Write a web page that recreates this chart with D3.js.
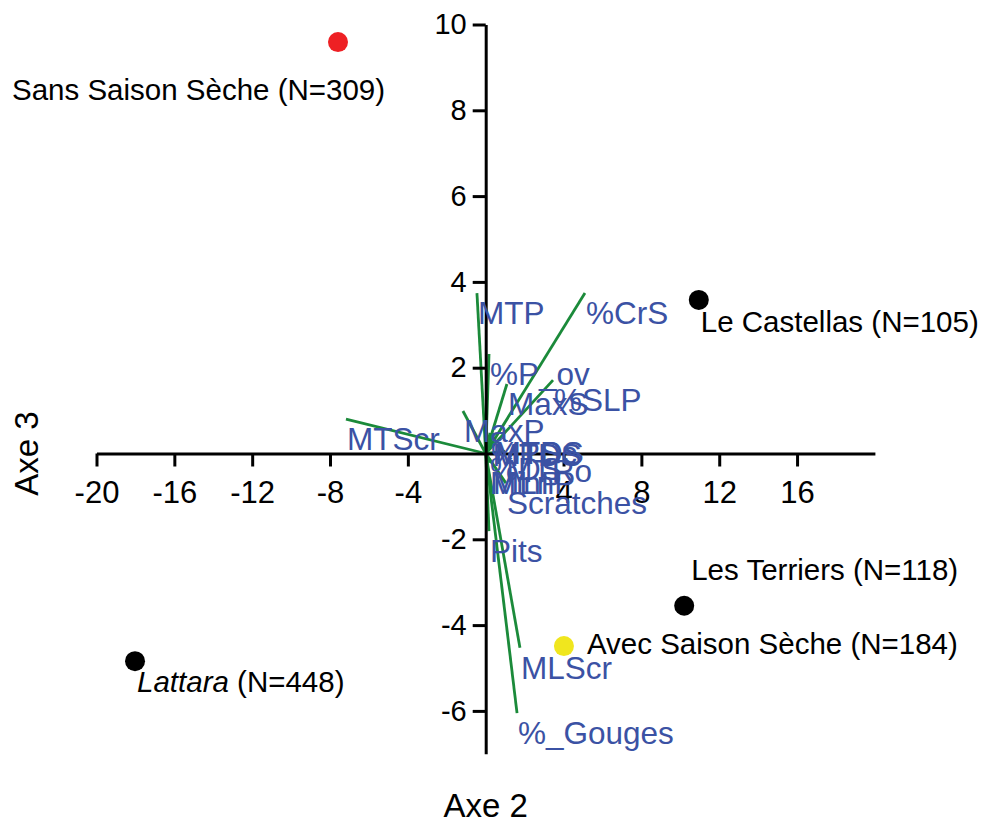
<!DOCTYPE html>
<html>
<head>
<meta charset="utf-8">
<script src="https://cdn.jsdelivr.net/npm/d3@7"></script>
<style>
  body { margin: 0; background: #fff; }
  text { font-family: "Liberation Sans", Arial, sans-serif; }
</style>
</head>
<body>
<div id="chart"></div>
<script>
// variable vectors (Axe 2, Axe 3)
var varNames = ["MTP", "%CrS", "%P_ov", "MaxS", "%SLP", "MaxP", "MTScr",
  "%PDS", "MTDS", "MTSc", "%DS", "MTRo", "MinP", "MLnP",
  "Scratches", "Pits", "MLScr", "%_Gouges"];
var varX = [-0.45, 5.10, 0.17, 1.09, 3.46, -1.17, -7.18,
  0.22, 0.30, 0.42, 0.17, 1.00, 0.17, 0.32,
  1.04, 0.17, 1.76, 1.61];
var varY = [3.74, 3.74, 2.32, 1.62, 1.71, 0.99, 0.80,
  0.48, 0.43, 0.48, 0.10, 0.05, -0.22, -0.22,
  -0.69, -1.81, -4.53, -6.05];

// supplementary groups
var groupNames = ["Sans Saison Sèche", "Le Castellas", "Les Terriers", "Avec Saison Sèche", "Lattara"];
var groupN = [309, 105, 118, 184, 448];
var groupX = [-7.59, 10.95, 10.2, 4.02, -18.02];
var groupY = [9.59, 3.58, -3.55, -4.49, -4.84];
var groupColor = ["#ee2024", "#000000", "#000000", "#f0e61e", "#000000"];

var xTicks = [-20, -16, -12, -8, -4, 4, 8, 12, 16];
var yTicks = [-6, -4, -2, 2, 4, 6, 8, 10];

var w = 981, h = 827;
var blue = "#3b52a4", green = "#1b8a3a";

var svg = d3.select("#chart").append("svg")
  .attr("width", w)
  .attr("height", h);

var x = d3.scaleLinear().domain([-20, 20]).range([96.5, 874.9]);
var y = d3.scaleLinear().domain([-7, 10]).range([753.8, 24.5]);

// vectors
svg.append("g").selectAll("line")
  .data(varNames)
  .enter()
  .append("line")
  .attr("x1", x(0)).attr("y1", y(0))
  .attr("x2", (d, i) => x(varX[i]))
  .attr("y2", (d, i) => y(varY[i]))
  .attr("stroke", green)
  .attr("stroke-width", 2.8);

// axes (plain hyphen for negatives)
var fmt = (d) => String(d);
var xAxis = svg.append("g")
  .attr("transform", "translate(0," + y(0) + ")")
  .call(d3.axisBottom(x).tickValues(xTicks).tickFormat(fmt)
    .tickSize(13).tickSizeOuter(0).tickPadding(14));
var yAxis = svg.append("g")
  .attr("transform", "translate(" + x(0) + ",0)")
  .call(d3.axisLeft(y).tickValues(yTicks).tickFormat(fmt)
    .tickSize(13).tickSizeOuter(0).tickPadding(6));

[xAxis, yAxis].forEach((a) => {
  a.select(".domain").attr("stroke", "#000").attr("stroke-width", 3);
  a.selectAll(".tick line").attr("stroke", "#000").attr("stroke-width", 3);
  a.selectAll(".tick text")
    .attr("fill", "#000")
    .style("font-family", "'Liberation Sans', Arial, sans-serif");
});
xAxis.selectAll(".tick text").style("font-size", "31px");
yAxis.selectAll(".tick text").style("font-size", "29px");

// variable labels
svg.append("g").selectAll("text")
  .data(varNames)
  .enter()
  .append("text")
  .attr("x", (d, i) => x(varX[i]) + 1)
  .attr("y", (d, i) => y(varY[i]) + 31)
  .attr("fill", blue)
  .style("font-size", "31.5px")
  .text((d) => d);

// group points
svg.append("g").selectAll("circle")
  .data(groupNames)
  .enter()
  .append("circle")
  .attr("cx", (d, i) => x(groupX[i]))
  .attr("cy", (d, i) => y(groupY[i]))
  .attr("r", 10)
  .attr("fill", (d, i) => groupColor[i]);

// group labels (offsets from the point)
var labelDx = [-326, 2, 7, 23, 2];
var labelDy = [58, 32, -26, 8, 31];
var gl = svg.append("g").selectAll("text")
  .data(groupNames)
  .enter()
  .append("text")
  .attr("x", (d, i) => x(groupX[i]) + labelDx[i])
  .attr("y", (d, i) => y(groupY[i]) + labelDy[i])
  .attr("fill", "#000")
  .style("font-size", "29.5px");
gl.append("tspan")
  .style("font-style", (d) => (d === "Lattara" ? "italic" : "normal"))
  .text((d) => d);
gl.append("tspan")
  .text((d, i) => " (N=" + groupN[i] + ")");

// axis titles
svg.append("text")
  .attr("x", x(0))
  .attr("y", 817)
  .attr("text-anchor", "middle")
  .style("font-size", "33px")
  .text("Axe 2");
svg.append("text")
  .attr("transform", "translate(38," + y(0) + ") rotate(-90)")
  .attr("text-anchor", "middle")
  .style("font-size", "33px")
  .text("Axe 3");
</script>
</body>
</html>
